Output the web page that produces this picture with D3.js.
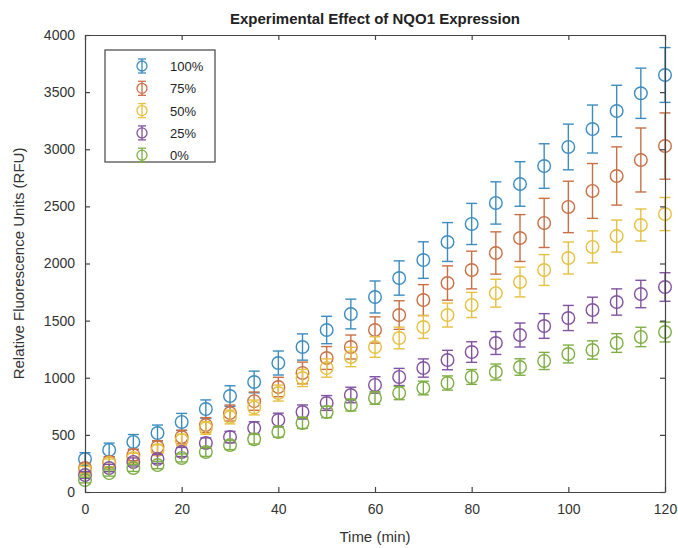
<!DOCTYPE html>
<html>
<head>
<meta charset="utf-8">
<script src="https://cdn.jsdelivr.net/npm/d3@7"></script>
<style>
  body { margin: 0; background: #fff; }
  text { font-family: "Liberation Sans", Arial, sans-serif; }
</style>
</head>
<body>
<div id="chart"></div>
<script>
// time points (min)
const times = [0, 5, 10, 15, 20, 25, 30, 35, 40, 45, 50, 55, 60, 65, 70, 75, 80, 85, 90, 95, 100, 105, 110, 115, 120];

const labels = ["100%", "75%", "50%", "25%", "0%"];
const colors = ["#3d8cbf", "#c86f45", "#e6c040", "#8253a0", "#7eae45"];

// mean RFU per series
const val100 = [289, 368, 438, 516, 613, 726, 840, 963, 1129, 1269, 1418, 1558, 1707, 1873, 2030, 2188, 2346, 2530, 2696, 2853, 3020, 3177, 3335, 3490, 3650];
const val75  = [210, 263, 324, 394, 481, 586, 691, 795, 919, 1042, 1173, 1269, 1418, 1549, 1680, 1829, 1943, 2092, 2223, 2355, 2495, 2635, 2766, 2906, 3028];
const val50  = [193, 254, 298, 368, 455, 560, 656, 740, 866, 998, 1085, 1182, 1269, 1348, 1444, 1549, 1637, 1740, 1838, 1943, 2048, 2145, 2240, 2337, 2433];
const val25  = [149, 210, 263, 289, 350, 429, 481, 560, 630, 700, 779, 849, 937, 1007, 1085, 1155, 1225, 1304, 1374, 1453, 1523, 1593, 1663, 1733, 1794];
const val0   = [105, 166, 210, 236, 298, 350, 411, 462, 525, 604, 700, 761, 823, 866, 910, 954, 1007, 1050, 1094, 1147, 1208, 1243, 1304, 1357, 1400];

// error bar half-lengths
const err100 = [55, 60, 65, 70, 75, 80, 90, 95, 105, 115, 120, 130, 140, 150, 160, 170, 180, 185, 195, 195, 200, 210, 225, 220, 240];
const err75  = [40, 45, 50, 55, 60, 65, 70, 80, 85, 95, 100, 105, 115, 125, 135, 150, 165, 185, 205, 215, 225, 240, 255, 280, 290];
const err50  = [30, 35, 40, 45, 50, 55, 60, 65, 70, 75, 80, 85, 90, 95, 100, 105, 110, 122, 130, 135, 140, 140, 140, 140, 145];
const err25  = [30, 32, 35, 38, 40, 45, 50, 55, 60, 62, 65, 68, 72, 75, 80, 85, 90, 100, 105, 108, 110, 112, 115, 120, 125];
const err0   = [25, 27, 30, 32, 35, 38, 40, 42, 45, 48, 50, 52, 55, 58, 60, 62, 65, 70, 72, 75, 78, 80, 82, 85, 87];

const xTicks = [0, 20, 40, 60, 80, 100, 120];
const yTicks = [0, 500, 1000, 1500, 2000, 2500, 3000, 3500, 4000];

const allVals = [val100, val75, val50, val25, val0];
const allErrs = [err100, err75, err50, err25, err0];

const width = 678, height = 548;
const margin = {left: 85, right: 13, top: 35, bottom: 56};
const axisColor = "#444";

const svg = d3.select("#chart")
    .append("svg")
        .attr("width", width)
        .attr("height", height);

let x = d3.scaleLinear().domain([0, 120]).range([margin.left, width - margin.right]);
let y = d3.scaleLinear().domain([0, 4000]).range([height - margin.bottom, margin.top]);

//draw series (bars then circles)
allVals.forEach(function(vals, s) {
    let g = svg.append("g").attr("stroke", colors[s]).attr("fill", "none").attr("stroke-width", 1.4);
    let pts = times.map((t, i) => ({t: t, v: vals[i], e: allErrs[s][i]}));
    let cap = 5.5;
    pts.forEach(function(d) {
        let cx = x(d.t), lo = y(d.v - d.e), hi = y(d.v + d.e);
        g.append("line").attr("x1", cx).attr("x2", cx).attr("y1", lo).attr("y2", hi);
        g.append("line").attr("x1", cx - cap).attr("x2", cx + cap).attr("y1", lo).attr("y2", lo);
        g.append("line").attr("x1", cx - cap).attr("x2", cx + cap).attr("y1", hi).attr("y2", hi);
    });
    g.selectAll("circle")
        .data(pts)
        .enter()
        .append("circle")
        .attr("cx", d => x(d.t))
        .attr("cy", d => y(d.v))
        .attr("r", 6.3);
});

//axes with inside ticks, full box
let xAxis = d3.axisBottom(x).tickValues(xTicks).tickSizeInner(-5).tickSizeOuter(0).tickPadding(12).tickFormat(d3.format("d"));
let yAxis = d3.axisLeft(y).tickValues(yTicks).tickSizeInner(-5).tickSizeOuter(0).tickPadding(10).tickFormat(d3.format("d"));
let xTop = d3.axisTop(x).tickValues(xTicks).tickSizeInner(-5).tickSizeOuter(0).tickFormat("");
let yRight = d3.axisRight(y).tickValues(yTicks).tickSizeInner(-5).tickSizeOuter(0).tickFormat("");

let axes = [
    svg.append("g").attr("transform", `translate(0, ${height - margin.bottom})`).call(xAxis),
    svg.append("g").attr("transform", `translate(${margin.left}, 0)`).call(yAxis),
    svg.append("g").attr("transform", `translate(0, ${margin.top})`).call(xTop),
    svg.append("g").attr("transform", `translate(${width - margin.right}, 0)`).call(yRight)
];
axes.forEach(function(a) {
    a.selectAll("path, line").attr("stroke", axisColor).attr("stroke-width", 1.2);
    a.selectAll("text").style("font-size", "14px").attr("fill", "#333");
});

//title and axis labels
svg.append("text")
    .attr("x", (margin.left + width - margin.right) / 2)
    .attr("y", 24)
    .style("text-anchor", "middle")
    .style("font-size", "15px")
    .style("font-weight", "bold")
    .attr("fill", "#222")
    .text("Experimental Effect of NQO1 Expression");

svg.append("text")
    .attr("x", (margin.left + width - margin.right) / 2)
    .attr("y", 542)
    .style("text-anchor", "middle")
    .style("font-size", "15px")
    .attr("fill", "#333")
    .text("Time (min)");

svg.append("text")
    .attr("transform", `translate(24, ${(margin.top + height - margin.bottom) / 2}) rotate(-90)`)
    .style("text-anchor", "middle")
    .style("font-size", "15px")
    .attr("fill", "#333")
    .text("Relative Fluorescence Units (RFU)");

//legend
let leg = svg.append("g").attr("class", "legend");
leg.append("rect")
    .attr("x", 105).attr("y", 50)
    .attr("width", 110).attr("height", 112)
    .attr("fill", "#fff")
    .attr("stroke", axisColor)
    .attr("stroke-width", 1.2);

let items = leg.selectAll("g.item")
    .data(labels)
    .enter()
    .append("g")
    .attr("class", "item")
    .attr("transform", (d, i) => `translate(142, ${66 + i * 22.3})`);

items.each(function(d, i) {
    let it = d3.select(this).attr("stroke", colors[i]).attr("fill", "none").attr("stroke-width", 1.3);
    it.append("line").attr("x1", 0).attr("x2", 0).attr("y1", -7).attr("y2", 7);
    it.append("line").attr("x1", -4).attr("x2", 4).attr("y1", -7).attr("y2", -7);
    it.append("line").attr("x1", -4).attr("x2", 4).attr("y1", 7).attr("y2", 7);
    it.append("circle").attr("r", 5);
});

items.append("text")
    .attr("x", 28)
    .attr("y", 5)
    .style("font-size", "13px")
    .attr("fill", "#222")
    .attr("stroke", "none")
    .text(d => d);
</script>
</body>
</html>
